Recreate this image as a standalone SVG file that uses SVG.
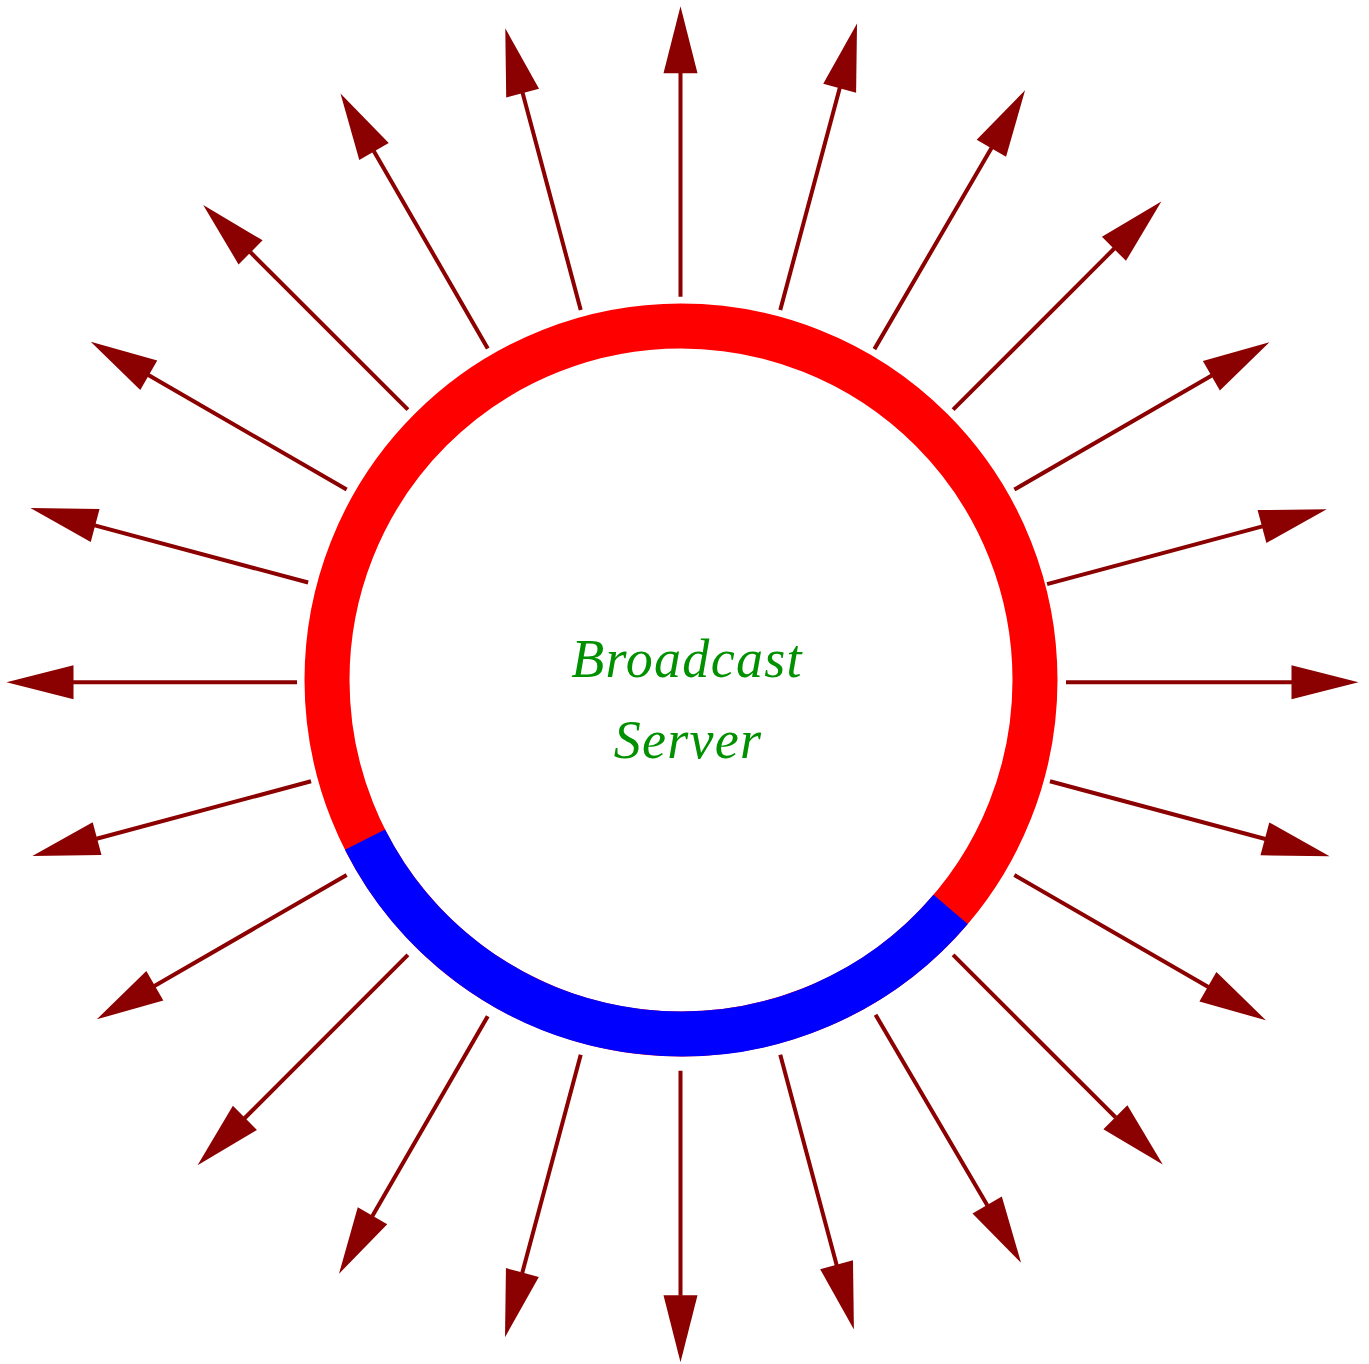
<svg xmlns="http://www.w3.org/2000/svg" xmlns:xlink="http://www.w3.org/1999/xlink" width="1369" height="1364" viewBox="0 0 1369 1364">
<style>
.ray{stroke:#8B0000;stroke-width:4;fill:none}
.head{fill:#8B0000;stroke:none}
.label{font-family:"Liberation Serif","Times New Roman",serif;font-style:italic;font-size:54px;letter-spacing:1.3px;fill:#009000;text-anchor:middle}
</style>
<rect width="1369" height="1364" fill="#ffffff"/>
<g id="connectors">
<g transform="rotate(0 680.5 682.3)"><line class="ray" x1="1066" y1="682.3" x2="1292" y2="682.3"/><polygon class="head" points="1358.5,682.3 1291.5,665.3 1291.5,699.3"/></g>
<g transform="rotate(15 680.5 682.3)"><line class="ray" x1="1063" y1="682.3" x2="1286" y2="682.3"/><polygon class="head" points="1352.5,682.3 1285.5,665.3 1285.5,699.3"/></g>
<g transform="rotate(30 680.5 682.3)"><line class="ray" x1="1066" y1="682.3" x2="1290" y2="682.3"/><polygon class="head" points="1356.5,682.3 1289.5,665.3 1289.5,699.3"/></g>
<g transform="rotate(45 680.5 682.3)"><line class="ray" x1="1066" y1="682.3" x2="1296" y2="682.3"/><polygon class="head" points="1362.5,682.3 1295.5,665.3 1295.5,699.3"/></g>
<g transform="rotate(59.6 680.5 682.3)"><line class="ray" x1="1066" y1="682.3" x2="1287" y2="682.3"/><polygon class="head" points="1353.5,682.3 1286.5,665.3 1286.5,699.3"/></g>
<g transform="rotate(75 680.5 682.3)"><line class="ray" x1="1066" y1="682.3" x2="1284" y2="682.3"/><polygon class="head" points="1350.5,682.3 1283.5,665.3 1283.5,699.3"/></g>
<g transform="rotate(90 680.5 682.3)"><line class="ray" x1="1069" y1="682.3" x2="1294" y2="682.3"/><polygon class="head" points="1360.5,682.3 1293.5,665.3 1293.5,699.3"/></g>
<g transform="rotate(105 680.5 682.3)"><line class="ray" x1="1066" y1="682.3" x2="1292" y2="682.3"/><polygon class="head" points="1358.5,682.3 1291.5,665.3 1291.5,699.3"/></g>
<g transform="rotate(120 680.5 682.3)"><line class="ray" x1="1066" y1="682.3" x2="1297" y2="682.3"/><polygon class="head" points="1363.5,682.3 1296.5,665.3 1296.5,699.3"/></g>
<g transform="rotate(135 680.5 682.3)"><line class="ray" x1="1066" y1="682.3" x2="1297" y2="682.3"/><polygon class="head" points="1363.5,682.3 1296.5,665.3 1296.5,699.3"/></g>
<g transform="rotate(150 680.5 682.3)"><line class="ray" x1="1066" y1="682.3" x2="1288" y2="682.3"/><polygon class="head" points="1354.5,682.3 1287.5,665.3 1287.5,699.3"/></g>
<g transform="rotate(165 680.5 682.3)"><line class="ray" x1="1063" y1="682.3" x2="1285" y2="682.3"/><polygon class="head" points="1351.5,682.3 1284.5,665.3 1284.5,699.3"/></g>
<g transform="rotate(180 680.5 682.3)"><line class="ray" x1="1064" y1="682.3" x2="1288" y2="682.3"/><polygon class="head" points="1354.5,682.3 1287.5,665.3 1287.5,699.3"/></g>
<g transform="rotate(195 680.5 682.3)"><line class="ray" x1="1066" y1="682.3" x2="1287" y2="682.3"/><polygon class="head" points="1353.5,682.3 1286.5,665.3 1286.5,699.3"/></g>
<g transform="rotate(210 680.5 682.3)"><line class="ray" x1="1066" y1="682.3" x2="1295" y2="682.3"/><polygon class="head" points="1361.5,682.3 1294.5,665.3 1294.5,699.3"/></g>
<g transform="rotate(225 680.5 682.3)"><line class="ray" x1="1066" y1="682.3" x2="1289" y2="682.3"/><polygon class="head" points="1355.5,682.3 1288.5,665.3 1288.5,699.3"/></g>
<g transform="rotate(240 680.5 682.3)"><line class="ray" x1="1066" y1="682.3" x2="1294" y2="682.3"/><polygon class="head" points="1360.5,682.3 1293.5,665.3 1293.5,699.3"/></g>
<g transform="rotate(255 680.5 682.3)"><line class="ray" x1="1066" y1="682.3" x2="1291" y2="682.3"/><polygon class="head" points="1357.5,682.3 1290.5,665.3 1290.5,699.3"/></g>
<g transform="rotate(270 680.5 682.3)"><line class="ray" x1="1066" y1="682.3" x2="1290" y2="682.3"/><polygon class="head" points="1356.5,682.3 1289.5,665.3 1289.5,699.3"/></g>
<g transform="rotate(285 680.5 682.3)"><line class="ray" x1="1066" y1="682.3" x2="1296" y2="682.3"/><polygon class="head" points="1362.5,682.3 1295.5,665.3 1295.5,699.3"/></g>
<g transform="rotate(300.2 680.5 682.3)"><line class="ray" x1="1066" y1="682.3" x2="1299" y2="682.3"/><polygon class="head" points="1365.5,682.3 1298.5,665.3 1298.5,699.3"/></g>
<g transform="rotate(315 680.5 682.3)"><line class="ray" x1="1066" y1="682.3" x2="1294" y2="682.3"/><polygon class="head" points="1360.5,682.3 1293.5,665.3 1293.5,699.3"/></g>
<g transform="rotate(330 680.5 682.3)"><line class="ray" x1="1066" y1="682.3" x2="1294" y2="682.3"/><polygon class="head" points="1360.5,682.3 1293.5,665.3 1293.5,699.3"/></g>
<g transform="rotate(345 680.5 682.3)"><line class="ray" x1="1060" y1="682.3" x2="1283" y2="682.3"/><polygon class="head" points="1349.5,682.3 1282.5,665.3 1282.5,699.3"/></g>
</g>
<g id="server">
<circle cx="681" cy="680" r="354" fill="none" stroke="#FF0000" stroke-width="45"/>
<path d="M 950.63 909.38 A 354 354 0 0 1 365.02 839.61" fill="none" stroke="#0000FF" stroke-width="45"/>
<text class="label" x="687" y="677">Broadcast</text>
<text class="label" x="688" y="758">Server</text>
</g>
</svg>
